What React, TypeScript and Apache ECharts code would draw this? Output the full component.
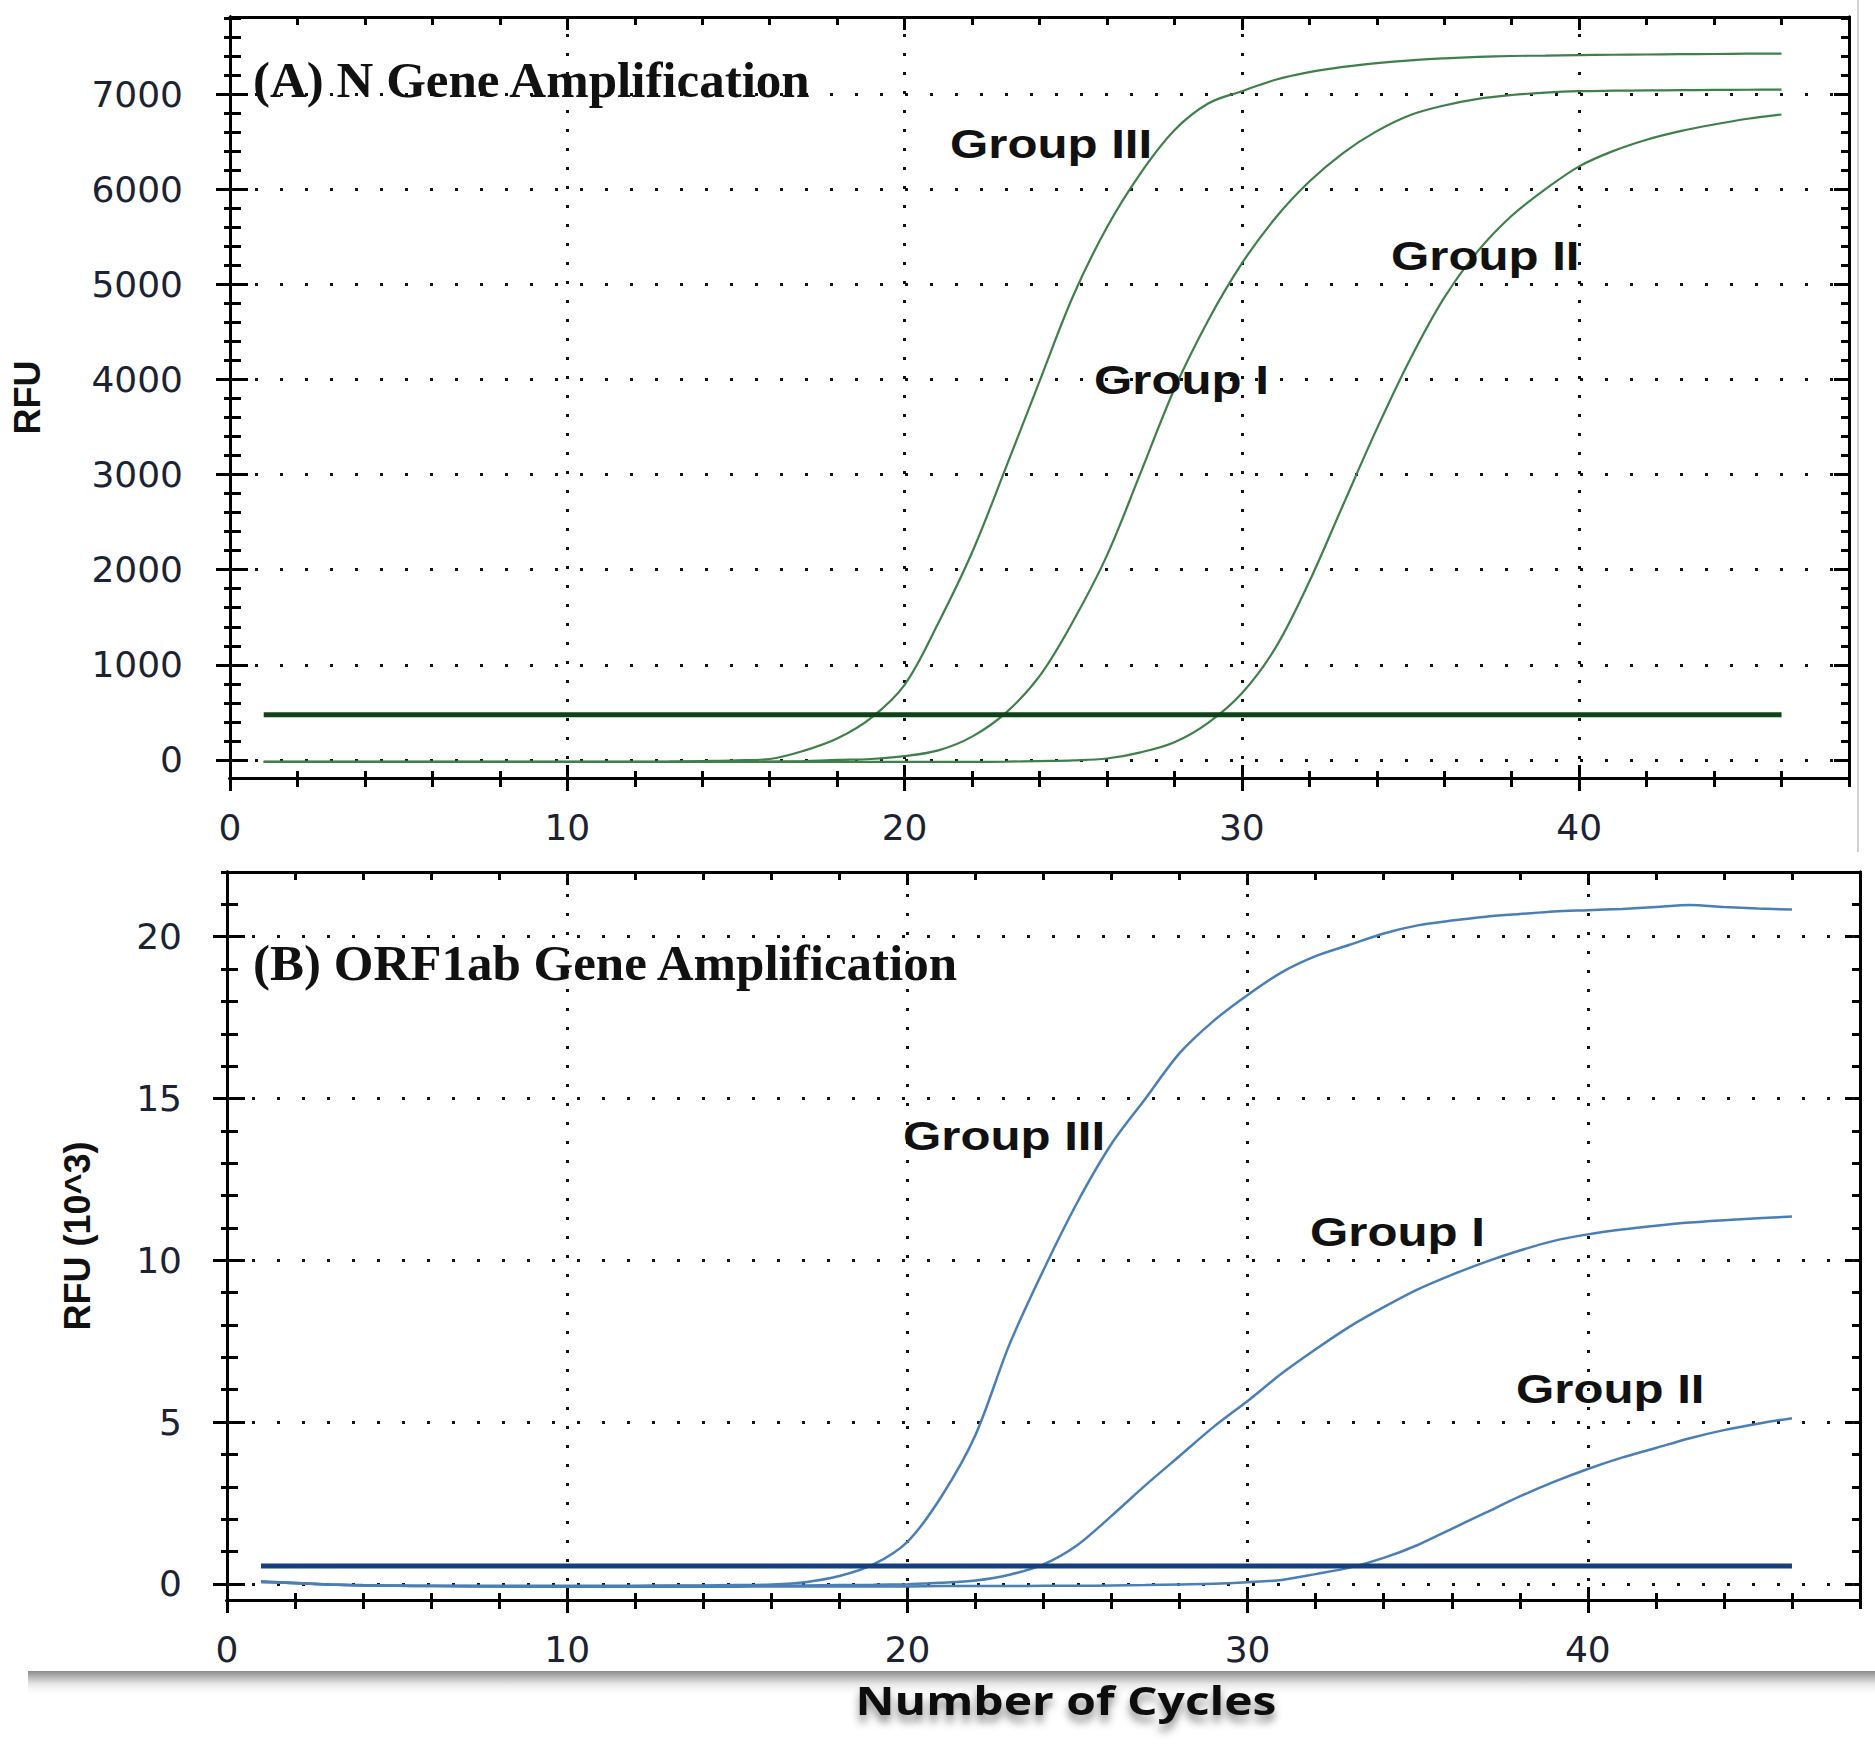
import React, { useEffect, useRef } from "react";
import * as echarts from "echarts";

// ---------------- DATA ----------------
const cycles = [
  1, 2, 3, 4, 5, 6, 7, 8, 9, 10, 11, 12, 13, 14, 15, 16, 17, 18, 19, 20, 21, 22, 23,
  24, 25, 26, 27, 28, 29, 30, 31, 32, 33, 34, 35, 36, 37, 38, 39, 40, 41, 42, 43, 44,
  45, 46,
];

// (A) N gene, RFU
const nGroupI = [
  -20, -20, -20, -20, -20, -20, -20, -20, -20, -20, -20, -20, -20, -20, -20, -18, -12,
  0, 10, 40, 100, 245, 495, 880, 1460, 2150, 3020, 3900, 4620, 5220, 5700, 6080, 6380,
  6610, 6780, 6880, 6950, 6990, 7015, 7030, 7035, 7038, 7041, 7043, 7045, 7047,
];
const nGroupII = [
  -20, -20, -20, -20, -20, -20, -20, -20, -20, -20, -20, -20, -20, -20, -20, -20, -20,
  -20, -20, -20, -20, -20, -18, -12, -5, 15, 80, 186, 390, 700, 1180, 1875, 2680, 3480,
  4220, 4860, 5350, 5720, 6000, 6240, 6400, 6520, 6610, 6680, 6740, 6785,
];
const nGroupIII = [
  -20, -20, -20, -20, -20, -20, -20, -20, -20, -20, -20, -20, -18, -12, -5, 10, 95, 225,
  440, 790, 1440, 2180, 3070, 3980, 4880, 5600, 6170, 6620, 6900, 7030, 7150, 7230, 7285,
  7325, 7355, 7375, 7390, 7400, 7405, 7410, 7413, 7416, 7419, 7421, 7424, 7426,
];
const nThreshold = 475;

// (B) ORF1ab gene, RFU (10^3)
const orfGroupI = [
  0.06, 0.02, -0.02, -0.05, -0.06, -0.07, -0.07, -0.08, -0.08, -0.08, -0.08, -0.08,
  -0.07, -0.07, -0.06, -0.06, -0.05, -0.04, -0.03, -0.01, 0.03, 0.1, 0.28, 0.6, 1.2, 2.1,
  3.05, 3.95, 4.85, 5.65, 6.5, 7.25, 7.95, 8.55, 9.1, 9.55, 9.95, 10.3, 10.6, 10.8, 10.95,
  11.07, 11.17, 11.24, 11.3, 11.35,
];
const orfGroupII = [
  0.06, 0.02, -0.02, -0.05, -0.06, -0.07, -0.08, -0.08, -0.09, -0.09, -0.09, -0.09,
  -0.09, -0.09, -0.09, -0.08, -0.08, -0.08, -0.08, -0.08, -0.07, -0.07, -0.07, -0.06,
  -0.06, -0.05, -0.04, -0.02, 0.0, 0.05, 0.12, 0.3, 0.5, 0.8, 1.2, 1.7, 2.2, 2.7, 3.15,
  3.55, 3.9, 4.2, 4.5, 4.75, 4.95, 5.12,
];
const orfGroupIII = [
  0.08, 0.03, -0.02, -0.04, -0.05, -0.06, -0.06, -0.06, -0.06, -0.06, -0.06, -0.06,
  -0.05, -0.05, -0.04, -0.02, 0.05, 0.24, 0.6, 1.3, 2.7, 4.6, 7.4, 9.7, 11.8, 13.6, 15.0,
  16.4, 17.4, 18.2, 18.9, 19.4, 19.75, 20.1, 20.35, 20.5, 20.62, 20.7, 20.78, 20.82,
  20.86, 20.92, 20.98, 20.92, 20.87, 20.84,
];
const orfThreshold = 0.55;

// tick labels
const xTickLabels = [0, 10, 20, 30, 40];
const xGridValues = [10, 20, 30, 40];
const nYTickLabels = [0, 1000, 2000, 3000, 4000, 5000, 6000, 7000];
const orfYTickLabels = [0, 5, 10, 15, 20];

const groupLabels = ["Group I", "Group II", "Group III"];

// ---------------- HELPERS ----------------
const range = (a: number, b: number, s: number) => {
  const r: number[] = [];
  for (let v = a; v <= b + 1e-9; v += s) r.push(Math.round(v * 1000) / 1000);
  return r;
};
const pairs = (xs: number[], ys: number[]) => xs.map((x, i) => [x, ys[i]]);

const LABEL_FONT = "DejaVu Sans";
const LABEL_COLOR = "#1b2232";

function tickAxis(
  gridIndex: number,
  min: number,
  max: number,
  position: string,
  values: number[],
  inside: boolean,
  length: number,
  extra: any = {}
) {
  return {
    type: "value",
    gridIndex,
    min,
    max,
    position,
    axisLine: { show: true, onZero: false, lineStyle: { color: "#000", width: 3 } },
    axisTick: {
      show: true,
      inside,
      length,
      customValues: values,
      lineStyle: { color: "#000", width: 3 },
    },
    axisLabel: { show: false },
    splitLine: { show: false },
    ...extra,
  };
}

function panelAxes(
  g: number,
  xMax: number,
  yMin: number,
  yMax: number,
  yMajors: number[],
  yMinors: number[],
  yLabelMargin: number,
  yName: string,
  yNameGap: number
) {
  const xMajors = xTickLabels;
  const xMinors = range(0, xMax, 2);
  const xLabel = {
    axisLabel: {
      show: true,
      customValues: xTickLabels,
      margin: 31,
      fontFamily: LABEL_FONT,
      fontSize: 36,
      color: LABEL_COLOR,
      formatter: (v: number) => String(v),
    },
  };
  const yLabel = {
    axisLabel: {
      show: true,
      customValues: yMajors,
      margin: yLabelMargin,
      fontFamily: LABEL_FONT,
      fontSize: 36,
      color: LABEL_COLOR,
      formatter: (v: number) => String(v),
    },
    name: yName,
    nameLocation: "middle",
    nameRotate: 90,
    nameGap: yNameGap,
    nameTextStyle: {
      fontFamily: "Liberation Sans",
      fontWeight: "bold",
      fontSize: 36,
      color: "#111",
    },
  };
  const xAxes = [
    tickAxis(g, 0, xMax, "bottom", xMajors, false, 13, xLabel),
    tickAxis(g, 0, xMax, "bottom", xMinors, false, 9),
    tickAxis(g, 0, xMax, "bottom", xMinors, true, 7),
    tickAxis(g, 0, xMax, "bottom", xMajors, true, 13),
    tickAxis(g, 0, xMax, "top", xMinors, true, 8),
    tickAxis(g, 0, xMax, "top", xMajors, true, 13),
  ];
  const yAxes = [
    tickAxis(g, yMin, yMax, "left", yMajors, false, 14, yLabel),
    tickAxis(g, yMin, yMax, "left", yMinors, false, 6),
    tickAxis(g, yMin, yMax, "left", yMinors, true, 11),
    tickAxis(g, yMin, yMax, "left", yMajors, true, 18),
    tickAxis(g, yMin, yMax, "right", yMinors, true, 8),
    tickAxis(g, yMin, yMax, "right", yMajors, true, 15),
  ];
  return { xAxes, yAxes };
}

function gridMarkLine(yValues: number[]) {
  return {
    silent: true,
    symbol: ["none", "none"],
    z: 1,
    label: { show: false },
    emphasis: { disabled: true },
    lineStyle: { type: [3, 22], color: "#111", width: 3 },
    data: [
      ...yValues.map((v) => ({ yAxis: v })),
      ...xGridValues.map((v) => ({
        xAxis: v,
        lineStyle: { type: [3, 16], color: "#111", width: 3 },
      })),
    ],
  };
}

function curve(name: string, xi: number, ys: number[], color: string, width: number, smooth: number) {
  return {
    type: "line",
    name,
    xAxisIndex: xi,
    yAxisIndex: xi,
    data: pairs(cycles, ys),
    smooth,
    symbol: "none",
    silent: true,
    z: 3,
    lineStyle: { color, width },
  };
}

const GREEN = "#3f7f4a";
const GREEN_DARK = "#0d4316";
const BLUE = "#4a7fb6";
const BLUE_DARK = "#14407f";

function groupText(text: string, x: number, y: number) {
  return {
    type: "text",
    x,
    y,
    scaleX: 1.2,
    z: 50,
    silent: true,
    style: {
      text,
      fill: "#111",
      font: 'bold 41px "Liberation Sans", Arial, sans-serif',
      align: "left",
      verticalAlign: "middle",
      textAlign: "left",
      textVerticalAlign: "middle",
    },
  };
}

function titleText(text: string, x: number, y: number) {
  return {
    type: "text",
    x,
    y,
    z: 50,
    silent: true,
    style: {
      text,
      fill: "#111",
      font: 'bold 51px "Liberation Serif", "Times New Roman", serif',
      align: "left",
      verticalAlign: "middle",
      textAlign: "left",
      textVerticalAlign: "middle",
    },
  };
}

export default function App() {
  const ref = useRef<HTMLDivElement>(null);
  useEffect(() => {
    if (!ref.current) return;
    const chart = echarts.init(ref.current, null, { renderer: "svg" });

    const A = panelAxes(0, 48, -190, 7810, nYTickLabels, range(0, 7800, 200), 47, "RFU", 185);
    const B = panelAxes(1, 48, -0.5, 22, orfYTickLabels, range(0, 22, 1), 45, "RFU (10^3)", 132);

    const option: any = {
      animation: false,
      backgroundColor: "#ffffff",
      grid: [
        { left: 230, top: 17, width: 1619, height: 761, containLabel: false, outerBoundsMode: "none" },
        { left: 227, top: 872, width: 1633, height: 728, containLabel: false, outerBoundsMode: "none" },
      ],
      xAxis: [...A.xAxes, ...B.xAxes],
      yAxis: [...A.yAxes, ...B.yAxes],
      series: [
        {
          type: "line",
          name: "N threshold",
          xAxisIndex: 0,
          yAxisIndex: 0,
          data: [
            [cycles[0], nThreshold],
            [cycles[cycles.length - 1], nThreshold],
          ],
          symbol: "none",
          silent: true,
          z: 4,
          lineStyle: { color: GREEN_DARK, width: 5 },
          markLine: gridMarkLine(nYTickLabels),
        },
        curve("N " + groupLabels[0], 0, nGroupI, GREEN, 2.2, 0.35),
        curve("N " + groupLabels[1], 0, nGroupII, GREEN, 2.2, 0.35),
        curve("N " + groupLabels[2], 0, nGroupIII, GREEN, 2.2, 0.35),
        {
          type: "line",
          name: "ORF1ab threshold",
          xAxisIndex: 6,
          yAxisIndex: 6,
          data: [
            [cycles[0], orfThreshold],
            [cycles[cycles.length - 1], orfThreshold],
          ],
          symbol: "none",
          silent: true,
          z: 4,
          lineStyle: { color: BLUE_DARK, width: 5 },
          markLine: gridMarkLine(orfYTickLabels),
        },
        curve("ORF1ab " + groupLabels[0], 6, orfGroupI, BLUE, 2.5, 0.3),
        curve("ORF1ab " + groupLabels[1], 6, orfGroupII, BLUE, 2.5, 0.3),
        curve("ORF1ab " + groupLabels[2], 6, orfGroupIII, BLUE, 2.5, 0.3),
      ],
      graphic: [
        titleText("(A) N Gene Amplification", 253, 80),
        titleText("(B) ORF1ab Gene Amplification", 253, 963),
        groupText(groupLabels[2], 950, 144),
        groupText(groupLabels[1], 1391, 256),
        groupText(groupLabels[0], 1094, 380),
        groupText(groupLabels[2], 903, 1136),
        groupText(groupLabels[0], 1310, 1232),
        groupText(groupLabels[1], 1516, 1389),
        {
          type: "rect",
          silent: true,
          z: 0,
          shape: { x: 28, y: 1671, width: 1847, height: 26 },
          style: {
            fill: new echarts.graphic.LinearGradient(0, 0, 0, 1, [
              { offset: 0, color: "#8a8a8a" },
              { offset: 0.22, color: "#b5b5b5" },
              { offset: 0.5, color: "#e6e6e6" },
              { offset: 1, color: "rgba(255,255,255,0)" },
            ]),
          },
        },
        {
          type: "line",
          silent: true,
          z: 0,
          shape: { x1: 1858, y1: 0, x2: 1858, y2: 852 },
          style: { stroke: "#d0d0d0", lineWidth: 2 },
        },
        {
          type: "text",
          x: 1066,
          y: 1700,
          scaleX: 1.2,
          z: 50,
          silent: true,
          style: {
            text: "Number of Cycles",
            fill: "#111",
            font: 'bold 40px "Open Sans", sans-serif',
            align: "center",
            verticalAlign: "middle",
            textAlign: "center",
            textVerticalAlign: "middle",
            textShadowColor: "rgba(0,0,0,0.45)",
            textShadowBlur: 8,
            textShadowOffsetY: 7,
          },
        },
      ],
    };
    chart.setOption(option);
    return () => chart.dispose();
  }, []);

  return (
    <div
      ref={ref}
      style={{ position: "absolute", left: 0, top: 0, width: 1875, height: 1747, background: "#fff" }}
    />
  );
}
